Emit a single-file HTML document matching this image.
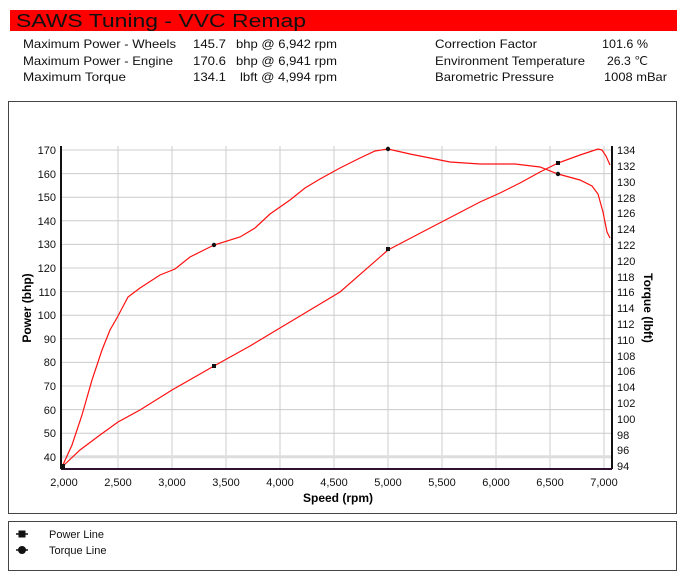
<!DOCTYPE html>
<html><head><meta charset="utf-8"><style>
body{margin:0;background:#fff;width:687px;height:582px;overflow:hidden;font-family:"Liberation Sans",sans-serif}
</style></head><body>
<svg width="687" height="582" xmlns="http://www.w3.org/2000/svg" font-family="Liberation Sans, sans-serif">
<rect x="10" y="10" width="667" height="21" fill="#ff0000"/>
<text x="16" y="27" font-size="18" fill="#111" textLength="290" lengthAdjust="spacingAndGlyphs">SAWS Tuning - VVC Remap</text>
<g font-size="12" fill="#111">
<text x="23" y="48" textLength="153" lengthAdjust="spacingAndGlyphs">Maximum Power - Wheels</text><text x="193" y="48" textLength="33" lengthAdjust="spacingAndGlyphs">145.7</text><text x="236" y="48" textLength="101" lengthAdjust="spacingAndGlyphs">bhp @ 6,942 rpm</text>
<text x="23" y="65" textLength="150" lengthAdjust="spacingAndGlyphs">Maximum Power - Engine</text><text x="193" y="65" textLength="33" lengthAdjust="spacingAndGlyphs">170.6</text><text x="236" y="65" textLength="101" lengthAdjust="spacingAndGlyphs">bhp @ 6,941 rpm</text>
<text x="23" y="81" textLength="103" lengthAdjust="spacingAndGlyphs">Maximum Torque</text><text x="193" y="81" textLength="33" lengthAdjust="spacingAndGlyphs">134.1</text><text x="240" y="81" textLength="97" lengthAdjust="spacingAndGlyphs">lbft @ 4,994 rpm</text>
<text x="435" y="48" textLength="102" lengthAdjust="spacingAndGlyphs">Correction Factor</text><text x="602" y="48" textLength="46" lengthAdjust="spacingAndGlyphs">101.6 %</text>
<text x="435" y="65" textLength="150" lengthAdjust="spacingAndGlyphs">Environment Temperature</text><text x="607" y="65" textLength="41" lengthAdjust="spacingAndGlyphs">26.3 ℃</text>
<text x="435" y="81" textLength="119" lengthAdjust="spacingAndGlyphs">Barometric Pressure</text><text x="604" y="81" textLength="63" lengthAdjust="spacingAndGlyphs">1008 mBar</text>
</g>
<rect x="8.5" y="101.5" width="668" height="412" fill="#fff" stroke="#444"/>
<rect x="8.5" y="521.5" width="668" height="49" fill="#fff" stroke="#444"/>
<g stroke="#ccc" stroke-width="1">
<line x1="118" y1="146" x2="118" y2="468"/><line x1="172" y1="146" x2="172" y2="468"/><line x1="226" y1="146" x2="226" y2="468"/><line x1="280" y1="146" x2="280" y2="468"/><line x1="334" y1="146" x2="334" y2="468"/><line x1="388" y1="146" x2="388" y2="468"/><line x1="442" y1="146" x2="442" y2="468"/><line x1="496" y1="146" x2="496" y2="468"/><line x1="550" y1="146" x2="550" y2="468"/><line x1="604" y1="146" x2="604" y2="468"/>
<line x1="61" y1="150" x2="612" y2="150"/><line x1="61" y1="173.6" x2="612" y2="173.6"/><line x1="61" y1="197.2" x2="612" y2="197.2"/><line x1="61" y1="220.8" x2="612" y2="220.8"/><line x1="61" y1="244.4" x2="612" y2="244.4"/><line x1="61" y1="268" x2="612" y2="268"/><line x1="61" y1="291.6" x2="612" y2="291.6"/><line x1="61" y1="315.2" x2="612" y2="315.2"/><line x1="61" y1="338.8" x2="612" y2="338.8"/><line x1="61" y1="362.4" x2="612" y2="362.4"/><line x1="61" y1="386" x2="612" y2="386"/><line x1="61" y1="409.6" x2="612" y2="409.6"/><line x1="61" y1="433.2" x2="612" y2="433.2"/><line x1="61" y1="456.8" x2="612" y2="456.8" stroke-width="3" stroke="#ddd"/>
</g>
<line x1="61" y1="146" x2="61" y2="469" stroke="#111" stroke-width="2"/>
<line x1="612" y1="146" x2="612" y2="469" stroke="#111" stroke-width="2"/>
<line x1="61" y1="469" x2="612" y2="469" stroke="#301030" stroke-width="2"/>
<g font-size="11" fill="#111" text-anchor="end">
<text x="56" y="154">170</text><text x="56" y="178">160</text><text x="56" y="201">150</text><text x="56" y="225">140</text><text x="56" y="248">130</text><text x="56" y="272">120</text><text x="56" y="296">110</text><text x="56" y="319">100</text><text x="56" y="343">90</text><text x="56" y="366">80</text><text x="56" y="390">70</text><text x="56" y="414">60</text><text x="56" y="437">50</text><text x="56" y="461">40</text>
</g>
<g font-size="11" fill="#111">
<text x="617" y="154">134</text><text x="617" y="170">132</text><text x="617" y="186">130</text><text x="617" y="202">128</text><text x="617" y="217">126</text><text x="617" y="233">124</text><text x="617" y="249">122</text><text x="617" y="265">120</text><text x="617" y="281">118</text><text x="617" y="296">116</text><text x="617" y="312">114</text><text x="617" y="328">112</text><text x="617" y="344">110</text><text x="617" y="360">108</text><text x="617" y="375">106</text><text x="617" y="391">104</text><text x="617" y="407">102</text><text x="617" y="423">100</text><text x="617" y="439">98</text><text x="617" y="454">96</text><text x="617" y="470">94</text>
</g>
<g font-size="11" fill="#111" text-anchor="middle">
<text x="64" y="486">2,000</text><text x="118" y="486">2,500</text><text x="172" y="486">3,000</text><text x="226" y="486">3,500</text><text x="280" y="486">4,000</text><text x="334" y="486">4,500</text><text x="388" y="486">5,000</text><text x="442" y="486">5,500</text><text x="496" y="486">6,000</text><text x="550" y="486">6,500</text><text x="604" y="486">7,000</text>
</g>
<text x="338" y="502" font-size="12" font-weight="bold" text-anchor="middle">Speed (rpm)</text>
<text transform="translate(31,308) rotate(-90)" font-size="12" font-weight="bold" text-anchor="middle">Power (bhp)</text>
<text transform="translate(644,308) rotate(90)" font-size="12" font-weight="bold" text-anchor="middle">Torque (lbft)</text>
<g fill="none" stroke="#ff1010" stroke-width="1.2">
<polyline points="62,467 80,450 100,435 118,422 140,410 172,390 214,366 250,346 300,316 340,292 388,250 430,228 480,202 500,193 520,183 540,172 558,163 580,155 598,149 602,150 606,156 610,165"/>
<polyline points="62,467 72,445 82,415 92,380 102,350 110,330 118,316 128,297 140,288 160,275 175,269 190,257 214,245 240,237 255,228 270,214 290,200 305,188 320,179 340,168 360,158 375,151 388,149 410,154 450,162 480,164 515,164 540,167 558,174 580,180 592,186 598,194 603,212 607,232 610,238"/>
</g>
<g fill="#111">
<rect x="212" y="364" width="4" height="4"/><rect x="386" y="247" width="4" height="4"/><rect x="556" y="161" width="4" height="4"/><rect x="60" y="464" width="5" height="5"/>
<circle cx="214" cy="245" r="2.2"/><circle cx="388" cy="149" r="2.2"/><circle cx="558" cy="174" r="2.2"/>
</g>
<g fill="#111" font-size="11">
<line x1="16" y1="534" x2="28" y2="534" stroke="#111" stroke-width="1.5"/><rect x="18.5" y="530.5" width="7" height="7"/>
<text x="49" y="538">Power Line</text>
<line x1="16" y1="550" x2="28" y2="550" stroke="#111" stroke-width="1.5"/><circle cx="22" cy="550" r="4"/>
<text x="49" y="554">Torque Line</text>
</g>
</svg>
</body></html>
